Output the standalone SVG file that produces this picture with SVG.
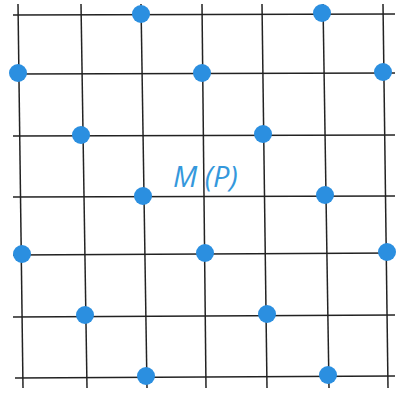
<svg xmlns="http://www.w3.org/2000/svg" width="400" height="393" viewBox="0 0 400 393">
<style>
.g line{stroke:#222;stroke-width:1.5;stroke-linecap:butt}
.d{fill:#2b8fe0}
.lbl{font-family:"Open Sans","Liberation Sans",sans-serif;font-style:italic;font-size:29px;fill:#3598dc}
</style>
<rect width="400" height="393" fill="#fff"/>
<g id="connectors" class="g">
<line x1="13" y1="15" x2="395" y2="14"/>
<line x1="13" y1="74" x2="395" y2="73"/>
<line x1="13" y1="136" x2="395" y2="135"/>
<line x1="13" y1="197" x2="395" y2="196"/>
<line x1="13" y1="255" x2="395" y2="253"/>
<line x1="13" y1="317" x2="395" y2="315"/>
<line x1="15" y1="378" x2="395" y2="376"/>
<line x1="18" y1="4" x2="23" y2="388"/>
<line x1="81" y1="4" x2="87" y2="388"/>
<line x1="141" y1="4" x2="147" y2="388"/>
<line x1="202" y1="4" x2="206" y2="388"/>
<line x1="262" y1="4" x2="267" y2="388"/>
<line x1="323" y1="4" x2="329" y2="388"/>
<line x1="383" y1="4" x2="388" y2="388"/>
</g>
<g id="dots">
<circle class="d" cx="141" cy="14" r="9"/>
<circle class="d" cx="322" cy="13" r="9"/>
<circle class="d" cx="18" cy="73" r="9"/>
<circle class="d" cx="202" cy="73" r="9"/>
<circle class="d" cx="383" cy="72" r="9"/>
<circle class="d" cx="81" cy="135" r="9"/>
<circle class="d" cx="263" cy="134" r="9"/>
<circle class="d" cx="143" cy="196" r="9"/>
<circle class="d" cx="325" cy="195" r="9"/>
<circle class="d" cx="22" cy="254" r="9"/>
<circle class="d" cx="205" cy="253" r="9"/>
<circle class="d" cx="387" cy="252" r="9"/>
<circle class="d" cx="85" cy="315" r="9"/>
<circle class="d" cx="267" cy="314" r="9"/>
<circle class="d" cx="146" cy="376" r="9"/>
<circle class="d" cx="328" cy="375" r="9"/>
</g>
<g id="label">
<text class="lbl" x="173" y="187">M (P)</text>
</g>
</svg>
